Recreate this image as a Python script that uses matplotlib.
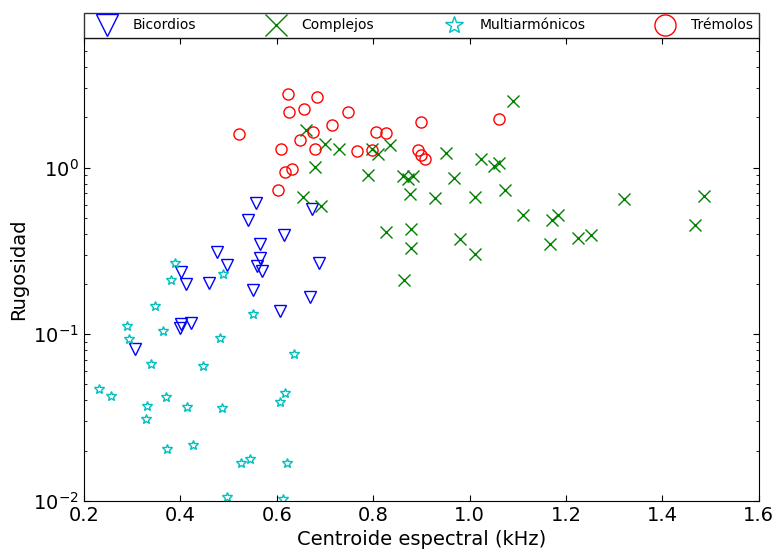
import matplotlib
matplotlib.use('Agg')
import matplotlib.pyplot as plt

# Bicordios (triangles)
bic_x = [0.557, 0.540, 0.673, 0.614, 0.566, 0.475, 0.565, 0.559, 0.570, 0.497,
         0.687, 0.402, 0.411, 0.460, 0.551, 0.669, 0.606, 0.402, 0.399, 0.422, 0.306]
bic_y = [0.613, 0.486, 0.564, 0.395, 0.349, 0.312, 0.286, 0.258, 0.241, 0.261,
         0.269, 0.235, 0.200, 0.202, 0.185, 0.166, 0.138, 0.115, 0.109, 0.117, 0.0813]

# Complejos (x)
com_x = [0.660, 0.701, 0.729, 0.798, 0.810, 0.834, 0.679, 0.790, 0.654, 0.691,
         0.862, 0.872, 0.882, 0.877, 0.827, 0.879, 0.879, 0.865, 0.951, 0.967,
         0.929, 1.011, 1.023, 1.050, 1.062, 1.090, 1.074, 1.111, 1.171, 1.183,
         1.166, 1.224, 1.251, 1.320, 1.486, 1.467, 1.012, 0.981]
com_y = [1.67, 1.39, 1.30, 1.29, 1.21, 1.36, 1.01, 0.903, 0.666, 0.585,
         0.885, 0.854, 0.885, 0.694, 0.408, 0.428, 0.331, 0.212, 1.22, 0.866,
         0.657, 0.662, 1.12, 1.02, 1.06, 2.51, 0.733, 0.521, 0.486, 0.521,
         0.349, 0.377, 0.395, 0.648, 0.671, 0.452, 0.303, 0.372]

# Multiarmonicos (stars)
mul_x = [0.389, 0.380, 0.489, 0.348, 0.290, 0.363, 0.293, 0.550, 0.482, 0.339,
         0.447, 0.636, 0.232, 0.255, 0.331, 0.328, 0.371, 0.413, 0.487, 0.606,
         0.617, 0.373, 0.426, 0.525, 0.544, 0.621, 0.496, 0.612]
mul_y = [0.267, 0.210, 0.230, 0.1466, 0.112, 0.1047, 0.0933, 0.132, 0.0946, 0.0663,
         0.0645, 0.0758, 0.0467, 0.0426, 0.0372, 0.0310, 0.0418, 0.0366, 0.0359, 0.0390,
         0.0442, 0.0204, 0.0215, 0.0168, 0.0178, 0.0168, 0.01057, 0.0102]

# Tremolos (circles)
tre_x = [0.521, 0.623, 0.683, 0.625, 0.657, 0.747, 0.714, 0.675, 0.648, 0.608,
         0.680, 0.767, 0.797, 0.805, 0.826, 0.900, 0.894, 0.900, 0.908, 0.617,
         0.632, 0.603, 1.062]
tre_y = [1.59, 2.78, 2.66, 2.16, 2.26, 2.16, 1.81, 1.63, 1.47, 1.30,
         1.29, 1.26, 1.27, 1.64, 1.61, 1.88, 1.28, 1.19, 1.12, 0.945,
         0.985, 0.736, 1.96]

fig = plt.figure(figsize=(7.8, 5.53), dpi=100)
ax = fig.add_axes([0.1077, 0.0946, 0.865, 0.8367])

ax.plot(bic_x, bic_y, 'v', mfc='none', mec='b', ms=8, label='Bicordios')
ax.plot(com_x, com_y, 'x', color='g', ms=8, mew=1.0, label='Complejos')
ax.plot(mul_x, mul_y, '*', mfc='none', mec='c', ms=7, label=u'Multiarmónicos')
ax.plot(tre_x, tre_y, 'o', mfc='none', mec='r', ms=8, label=u'Trémolos')

ax.set_yscale('log')
ax.set_xlim(0.2, 1.6)
ax.set_ylim(0.01, 6.0)

ax.tick_params(which='both', direction='in', top=True, right=True, labelsize=14)
ax.tick_params(which='major', length=4)
ax.tick_params(which='minor', length=2)

ax.set_xlabel('Centroide espectral (kHz)', fontsize=14)
ax.set_ylabel('Rugosidad', fontsize=14)

# legend sits on top of the axes, full width
leg = ax.legend(bbox_to_anchor=(0., 1.0, 1., 0.055), loc=3, ncol=4,
                mode='expand', borderaxespad=0., fontsize=10, markerscale=1.9,
                fancybox=False, numpoints=1, handlelength=2.5, handletextpad=0.6)
leg.get_frame().set_edgecolor('black')

fig.savefig('out.png', dpi=100)
